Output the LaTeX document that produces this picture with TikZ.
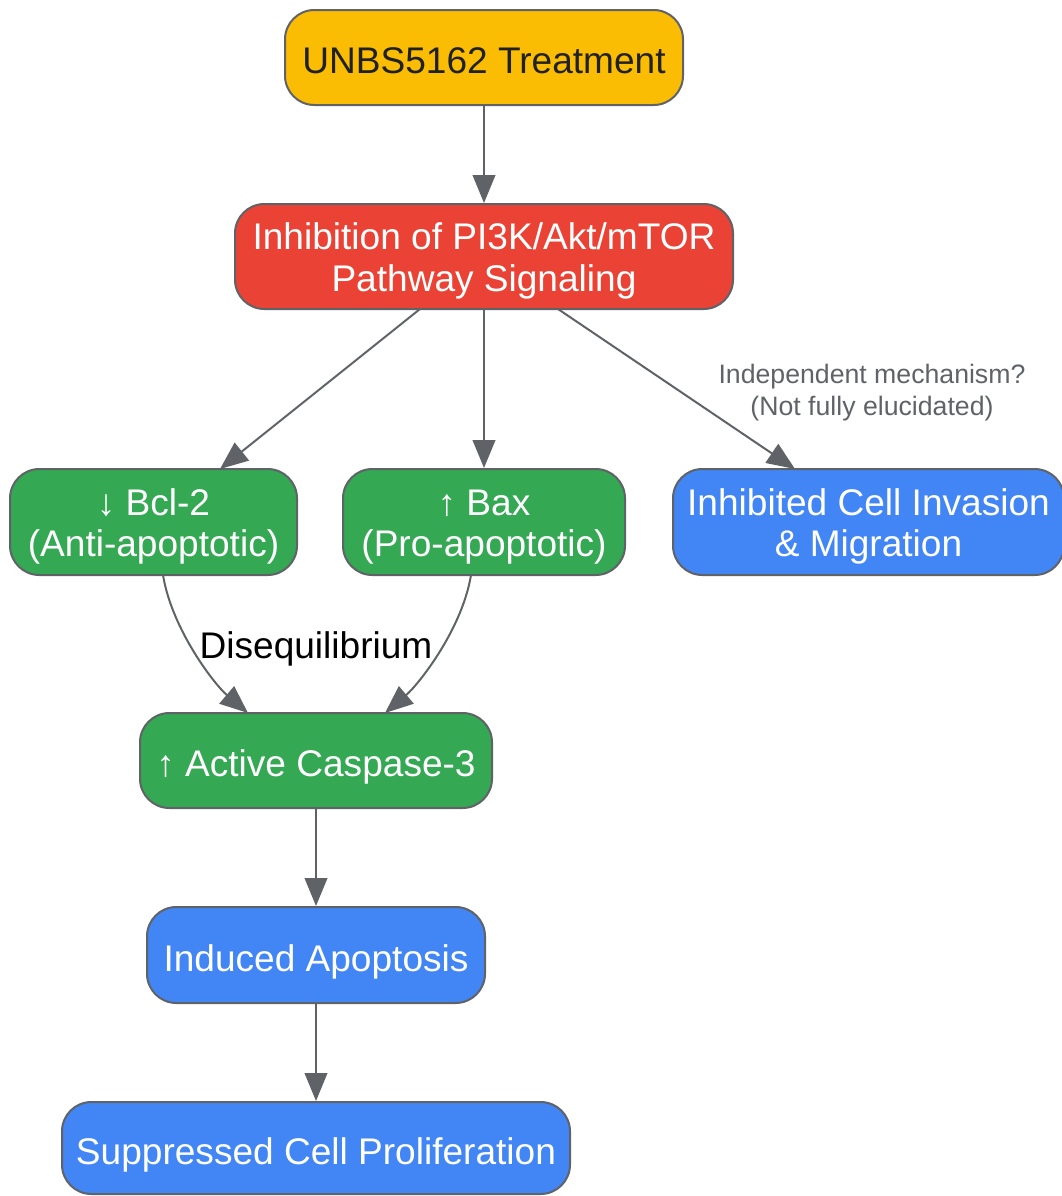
\documentclass[tikz,border=0pt]{standalone}
\usepackage{fontspec}
\setmainfont{Liberation Sans}
\usetikzlibrary{arrows.meta}
\definecolor{cyellow}{HTML}{FBBC04}
\definecolor{cred}{HTML}{EA4335}
\definecolor{cgreen}{HTML}{34A853}
\definecolor{cblue}{HTML}{4285F4}
\definecolor{cborder}{HTML}{5F6368}
\definecolor{cdark}{HTML}{202124}
\newcommand{\oneln}[1]{\raisebox{-12pt}[0pt][0pt]{#1}}
\newcommand{\twoln}[2]{\raisebox{5pt}[0pt][0pt]{\begin{tabular}[t]{@{}c@{}}#1\\#2\end{tabular}}}
\begin{document}
\begin{tikzpicture}[x=0.75pt,y=-0.75pt,
  box/.style={draw=cborder,line width=1.5pt,rounded corners=22pt,
    inner sep=0pt,font=\fontsize{27.8}{31}\selectfont,text=white},
  arr/.style={draw=cborder,line width=1.5pt,-{Triangle[length=21pt,width=17pt]}},
  elabel/.style={font=\fontsize{20}{24}\selectfont,text=cborder,align=center},
]
\useasboundingbox (0,0) rectangle (1062,1196);
\node[box,fill=cyellow,text=cdark,minimum width=298.5pt,minimum height=71.25pt] (unbs) at (484,57.5) {\oneln{UNBS5162 Treatment}};
\node[box,fill=cred,minimum width=373.5pt,minimum height=78.75pt] (inh) at (484,256.5) {\twoln{Inhibition of PI3K/Akt/mTOR}{Pathway Signaling}};
\node[box,fill=cgreen,minimum width=215.25pt,minimum height=79.5pt] (bcl) at (153.5,522) {\twoln{↓ Bcl-2}{(Anti-apoptotic)}};
\node[box,fill=cgreen,minimum width=211.5pt,minimum height=79.5pt] (bax) at (484,522) {\twoln{↑ Bax}{(Pro-apoptotic)}};
\node[box,fill=cblue,minimum width=293.25pt,minimum height=79.5pt] (inv) at (868.5,522) {\twoln{Inhibited Cell Invasion}{\& Migration}};
\node[box,fill=cgreen,minimum width=264pt,minimum height=71.25pt] (casp) at (316,760.5) {\oneln{↑ Active Caspase-3}};
\node[box,fill=cblue,minimum width=253.5pt,minimum height=72pt] (apo) at (316,955) {\oneln{Induced Apoptosis}};
\node[box,fill=cblue,minimum width=381pt,minimum height=69pt] (sup) at (316,1148) {\oneln{Suppressed Cell Proliferation}};

\coordinate (inhL) at (420,309);
\coordinate (inhR) at (558,309);
\coordinate (bclT) at (220,469);
\coordinate (invT) at (795,469);
\coordinate (bclB) at (163,575);
\coordinate (baxB) at (471,575);
\coordinate (caspL) at (248,713);
\coordinate (caspR) at (385,713);

\draw[arr] (unbs.south) -- (inh.north);
\draw[arr] (inhL) -- (bclT);
\draw[arr] (inh.south) -- (bax.north);
\draw[arr] (inhR) -- (invT);
\node[elabel] (lab1) at (872,393) {Independent mechanism?\\(Not fully elucidated)};
\draw[arr] (bclB) .. controls (172,630) and (215,685) .. (caspL);
\draw[arr] (baxB) .. controls (462,630) and (418,685) .. (caspR);
\node[font=\fontsize{27.8}{31}\selectfont] (lab2) at (316,649) {Disequilibrium};
\draw[arr] (casp.south) -- (apo.north);
\draw[arr] (apo.south) -- (sup.north);
\end{tikzpicture}
\end{document}
